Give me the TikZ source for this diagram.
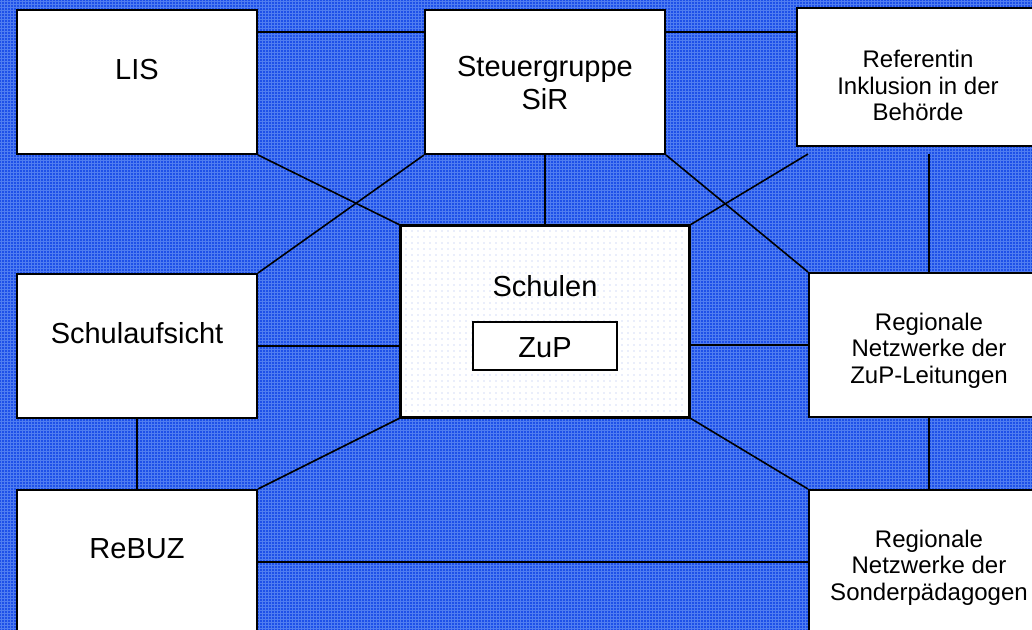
\documentclass[tikz,border=0pt]{standalone}
\usepackage{fontspec}
\setmainfont{Liberation Sans}
\usetikzlibrary{calc}
\definecolor{bgblue}{RGB}{30,80,232}
\definecolor{gridblue}{RGB}{80,125,240}
\definecolor{dotblue}{RGB}{165,185,240}
\tikzset{
  box/.style={draw=black, fill=white, line width=1.5pt, rectangle, inner sep=0pt},
  conn/.style={draw=black, line width=1.2pt},
  bigtxt/.style={font=\fontsize{21.75}{24.75}\selectfont, align=center, inner sep=0pt},
  smalltxt/.style={font=\fontsize{18}{19.9}\selectfont, align=center, inner sep=0pt}
}
\begin{document}
\begin{tikzpicture}[x=0.75pt,y=-0.75pt]
\useasboundingbox (0,0) rectangle (1032,630);
\clip (0,0) rectangle (1032,630);
% background
\fill[bgblue] (0,0) rectangle (1032,630);
\foreach \x in {1,4,...,1032} {\draw[gridblue, line width=0.35pt] (\x,0) -- (\x,630);}
\foreach \y in {1,4,...,630} {\draw[gridblue, line width=0.35pt] (0,\y) -- (1032,\y);}
% boxes
\node[box, minimum width=180pt, minimum height=108pt] (lis) at (137,82) {};
\node[box, minimum width=180pt, minimum height=108pt] (steu) at (545,82) {};
\node[box, minimum width=180pt, minimum height=103.5pt] (ref) at (917,77) {};
\node[box, minimum width=180pt, minimum height=108pt] (sauf) at (137,346) {};
\node[box, minimum width=216pt, minimum height=143.25pt] (schulen) at (545,321.5) {};
\foreach \i in {406,412,...,686} {\foreach \j in {231,237,...,414} {\fill[dotblue] (\i,\j) circle (0.45pt);}}
\draw[line width=1.5pt] (schulen.south west) rectangle (schulen.north east);
\node[box, minimum width=108pt, minimum height=36pt] (zup) at (545,346) {};
\node[box, minimum width=180pt, minimum height=108pt] (regzup) at (929,345) {};
\node[box, minimum width=180pt, minimum height=108pt] (rebuz) at (137,562) {};
\node[box, minimum width=180pt, minimum height=108pt] (sonder) at (929,562) {};
% texts
\node[bigtxt] (tlis) at (137,70) {LIS};
\node[bigtxt] (tsteu) at (545,83.5) {Steuergruppe\\SiR};
\node[smalltxt] (tref) at (918,85.5) {Referentin\\Inklusion in der\\Behörde};
\node[bigtxt] (tsauf) at (137,333) {Schulaufsicht};
\node[bigtxt] (tschulen) at (545,286) {Schulen};
\node[bigtxt] (tzup) at (545,348) {ZuP};
\node[smalltxt] (tregzup) at (929,350.5) {Regionale\\Netzwerke der\\ZuP-Leitungen};
\node[bigtxt] (trebuz) at (137,549) {ReBUZ};
\node[smalltxt] (tsonder) at (929,567.5) {Regionale\\Netzwerke der\\Sonderpädagogen};
% helper coordinate below the Referentin box
\coordinate (refb) at ([yshift=-5.25pt]ref.south);
% connectors
\draw[conn] ([yshift=-17.25pt]lis.north east) -- ([yshift=-17.25pt]lis.north east -| steu.west);
\draw[conn] ([yshift=-17.25pt]steu.north east) -- ([yshift=-17.25pt]steu.north east -| ref.west);
\draw[conn] (lis.south east) -- (schulen.north west);
\draw[conn] (sauf.north east) -- (steu.south west);
\draw[conn] (steu.south) -- (schulen.north);
\draw[conn] (steu.south east) -- (regzup.north west);
\draw[conn] (schulen.north east) -- (refb -| regzup.west);
\draw[conn] (refb -| regzup.north) -- (regzup.north);
\draw[conn] (sauf.east) -- (sauf.east -| schulen.west);
\draw[conn] (regzup.west -| schulen.east) -- (regzup.west);
\draw[conn] (sauf.south) -- (rebuz.north);
\draw[conn] (schulen.south west) -- (rebuz.north east);
\draw[conn] (schulen.south east) -- (sonder.north west);
\draw[conn] (regzup.south) -- (sonder.north);
\draw[conn] (rebuz.east) -- (rebuz.east -| sonder.west);
\end{tikzpicture}
\end{document}
